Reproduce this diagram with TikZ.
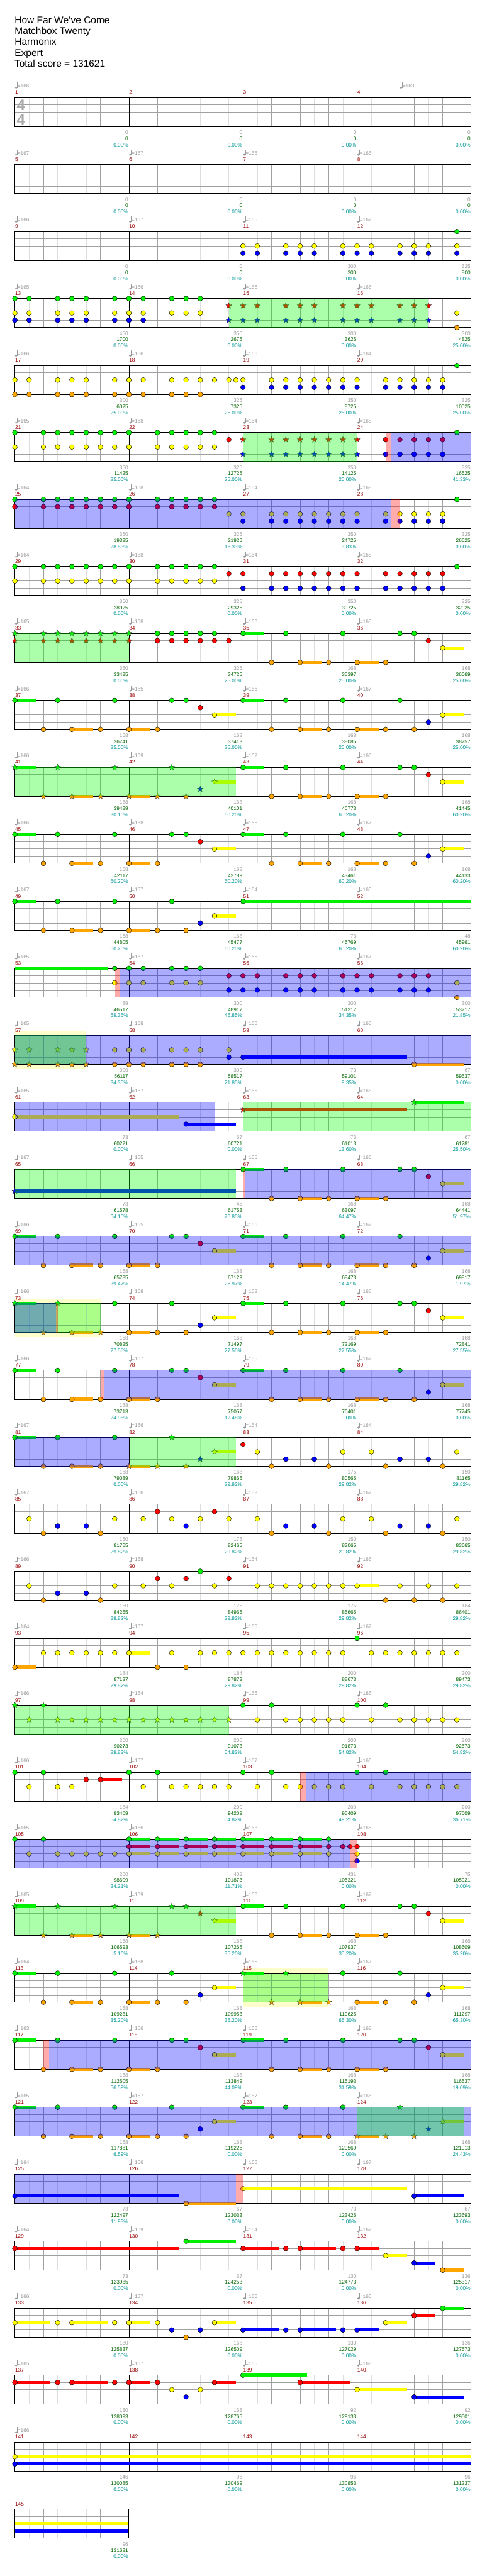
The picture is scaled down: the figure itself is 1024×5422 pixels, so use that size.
\documentclass[tikz,border=0pt]{standalone}
\usepackage{fontspec}
\setmainfont{Liberation Sans}
\usetikzlibrary{shapes.geometric}
\definecolor{cG}{RGB}{0,240,0}
\definecolor{cR}{RGB}{255,0,0}
\definecolor{cY}{RGB}{255,255,0}
\definecolor{cB}{RGB}{0,0,255}
\definecolor{cO}{RGB}{255,165,0}
\definecolor{ovG}{RGB}{0,255,0}
\definecolor{ovR}{RGB}{255,0,0}
\definecolor{ovB}{RGB}{0,0,255}
\definecolor{lyel}{RGB}{255,255,204}
\definecolor{tg}{RGB}{153,153,153}
\definecolor{sgr}{RGB}{0,100,0}
\definecolor{stl}{RGB}{0,150,150}
\definecolor{mr}{RGB}{150,0,0}
\definecolor{hlc}{RGB}{222,222,222}
\definecolor{blc}{RGB}{160,160,160}
\definecolor{tsg}{RGB}{170,170,170}
\def\lG{0}\def\lR{1}\def\lY{2}\def\lB{3}\def\lO{4}
\tikzset{
 nh/.style={circle,draw=black,line width=0.55pt,minimum size=10.4pt,inner sep=0pt},
 sh/.style={star,star points=5,star point ratio=2.3,draw=black!80,line width=0.45pt,minimum size=13pt,inner sep=0pt},
 hl/.style={draw=hlc,line width=0.8pt},
 bl/.style={draw=blc,line width=0.9pt},
 ml/.style={draw=black,line width=0.9pt},
 bd/.style={draw=black,line width=1.3pt},
 lbl/.style={inner sep=0pt,font=\fontsize{11}{13}\selectfont},
}
\newcommand\setrow[1]{\pgfmathsetmacro\rT{205.3+141*(#1-1)}\pgfmathsetmacro\rB{\rT+61}}
\newcommand\grid[1]{%
 \pgfmathsetmacro\rW{240*#1}%
 \pgfmathtruncatemacro\nh{8*#1-1}%
 \foreach \k in {1,...,\nh}{\draw[hl] ({31.3+30*\k},\rT) -- ++(0,61);}%
 \pgfmathtruncatemacro\nb{4*#1-1}%
 \foreach \k in {1,...,\nb}{\draw[bl] ({31.3+60*\k},\rT) -- ++(0,61);}%
 \foreach \l in {1,2,3}{\draw[bl] (31.3,{\rT+15.25*\l}) -- ++(\rW,0);}%
 \ifnum#1>1 \foreach \k in {1,2,3}{\draw[ml] ({31.3+240*\k},\rT) -- ++(0,61);}\fi
 \draw[bd] (31.3,\rT) rectangle ++(\rW,61);%
}
\newcommand\tempo[2]{%
 \pgfmathsetmacro\tx{31.3+30*(#1)}%
 \fill[tg] (\tx+2.6,\rT-20.5) ellipse[x radius=2.6,y radius=2.1];
 \draw[tg,line width=0.9pt] (\tx+4.9,\rT-20.5) -- (\tx+4.9,\rT-31.5);
 \node[lbl,text=tg,anchor=base west] at (\tx+5.4,\rT-20.6) {=#2};}
\newcommand\Row[4]{%
 \grid{#2}%
 \if\relax\detokenize{#3}\relax\else\foreach \hh/\vv in {#3}{\tempo{\hh}{\vv}}\fi
 \foreach[count=\i from 1] \sa/\sb/\sc in {#4}{%
  \pgfmathsetmacro\ex{31.3+240*\i-1.3}%
  \pgfmathtruncatemacro\mm{#1+\i-1}%
  \node[lbl,text=mr,anchor=base west] at ({31.3+240*(\i-1)+0.3},\rT-7) {\mm};
  \node[lbl,text=tg,anchor=base east] at (\ex,\rB+16.4) {\sa};
  \node[lbl,text=sgr,anchor=base east] at (\ex,\rB+29.4) {\sb};
  \node[lbl,text=stl,anchor=base east] at (\ex,\rB+42.4) {\sc\%};
 }}
\newcommand\Nt[2]{\pgfmathsetmacro\ly{\rT+15.25*\csname l#1\endcsname}\foreach\h in {#2}{\node[nh,fill=c#1] at ({31.3+30*\h},\ly) {};}}
\newcommand\St[2]{\pgfmathsetmacro\ly{\rT+15.25*\csname l#1\endcsname}\foreach\h in {#2}{\node[sh,fill=c#1] at ({31.3+30*\h},\ly) {};}}
\newcommand\Su[3]{\pgfmathsetmacro\ly{\rT+15.25*\csname l#1\endcsname}\fill[c#1] ({31.3+30*(#2)},\ly-3.5) rectangle ({31.3+30*(#3)},\ly+3.5);}
\newcommand\Reg[3]{\fill[#1,opacity=0.33] ({31.3+30*(#2)},\rT) rectangle ({31.3+30*(#3)},\rB);}
\newcommand\YReg[2]{\fill[lyel] ({31.3+30*(#1)},\rT-10) rectangle ({31.3+30*(#2)},\rB+10);}
\newcommand\Pone{\Su G{0}{1.5}\Su Y{14}{15.5}\Su O{4}{5.5}\Su O{8}{9.5}\Nt G{0,3,7,11,12}\Nt R{13}\Nt Y{14}\Nt O{2,4,6,8,10}}
\newcommand\Ptwo{\Su G{0}{1.5}\Su Y{14}{15.5}\Su O{4}{5.5}\Su O{8}{9.5}\Nt G{0,3,7,11}\Nt B{13}\Nt Y{14}\Nt O{2,4,6,8,10,12}}
\newcommand\Qone{\Su G{16}{17.5}\Su Y{30}{31.5}\Su O{20}{21.5}\Su O{24}{25.5}\Nt G{16,19,23,27,28}\Nt R{29}\Nt Y{30}\Nt O{18,20,22,24,26}}
\newcommand\Qtwo{\Su G{16}{17.5}\Su Y{30}{31.5}\Su O{20}{21.5}\Su O{24}{25.5}\Nt G{16,19,23,27}\Nt B{29}\Nt Y{30}\Nt O{18,20,22,24,26,28}}
\begin{document}
\begin{tikzpicture}[x=1pt,y=-1pt]
\fill[white] (0,0) rectangle (1024,5422);
\useasboundingbox (0,0) rectangle (1024,5422);
\begin{scope}[every node/.style={inner sep=0pt,anchor=base west,font=\fontsize{20.5}{24}\selectfont}]
\node (t1) at (30.8,49) {How Far We've Come};
\node (t2) at (30.8,72) {Matchbox Twenty};
\node (t3) at (30.8,95) {Harmonix};
\node (t4) at (30.8,118) {Expert};
\node (t5) at (30.3,141) {Total score = 131621};
\end{scope}
% row 1
\setrow{1}\Row{1}{4}{0/166,27/163}{0/0/0.00,0/0/0.00,0/0/0.00,0/0/0.00}
\node[inner sep=0pt,anchor=base west,text=tsg,font=\fontsize{32}{32}\bfseries\selectfont] (ts1) at (35,\rT+27.2) {4};
\node[inner sep=0pt,anchor=base west,text=tsg,font=\fontsize{32}{32}\bfseries\selectfont] (ts2) at (35,\rT+57.7) {4};
% row 2
\setrow{2}\Row{5}{4}{0/167,8/167,16/166,24/166}{0/0/0.00,0/0/0.00,0/0/0.00,0/0/0.00}
% row 3
\setrow{3}\Row{9}{4}{0/166,8/167,16/165,24/167}{0/0/0.00,0/0/0.00,300/300/0.00,325/800/0.00}
\Nt Y{16,17,19,20,21,23,24,25,27,28,29,31}\Nt B{16,17,19,20,21,23,24,25,27,28,29,31}\Nt G{31}
% row 4
\setrow{4}\Row{13}{4}{0/165,8/166,16/166,24/166}{450/1700/0.00,350/2675/0.00,300/3625/0.00,300/4825/25.00}
\Nt G{0,1,3,4,5,7,8,9,11,12,13}\Nt Y{0,1,3,4,5,7,8,9,11,12,13}\Nt B{0,1,3,4,5,7,8,9}
\St R{15,16,17,19,20,21,23,24,25,27,28,29}\St B{15,16,17,19,20,21,23,24,25,27,28,29}
\Nt Y{31}\Nt O{31}
\Reg{ovG}{15}{29}
% row 5
\setrow{5}\Row{17}{4}{0/166,8/166,16/166,24/164}{300/6025/25.00,325/7325/25.00,350/8725/25.00,325/10025/25.00}
\Nt Y{0,1,3,4,5,7,8,9,11,12,13,14,15,15.5,16,18,19,20,21,22,23,24,26,27,28,29,30}
\Nt B{16,18,19,20,21,22,23,24,26,27,28,29,30}
\Nt O{0,1,3,4,5,7,8,9,11,12,13}\Nt G{31}
% row 6
\setrow{6}\Row{21}{4}{0/165,8/168,16/164,24/168}{350/11425/25.00,325/12725/25.00,350/14125/25.00,325/16525/41.33}
\Nt G{0,2,3,4,5,6,7,8,10,11,12,13,14,31}\Nt Y{0,2,3,4,5,6,7,8,10,11,12,13,14}
\Nt R{15,26,27,28,29,30}\St R{16,18,19,20,21,22,23,24}\St B{16,18,19,20,21,22,23,24}\Nt B{26,27,28,29,30}
\Reg{ovG}{16}{24}\Reg{ovR}{26}{26.42}\Reg{ovB}{26.42}{32}
% row 7
\setrow{7}\Row{25}{4}{0/164,8/168,16/164,24/168}{350/19325/28.83,325/21925/16.33,350/24725/3.83,325/26625/0.00}
\Nt G{0,2,3,4,5,6,7,8,10,11,12,13,14,31}\Nt R{0,2,3,4,5,6,7,8,10,11,12,13,14}
\Nt Y{15,16,18,19,20,21,22,23,24,26,27,28,29,30}\Nt B{16,18,19,20,21,22,23,24,26,27,28,29,30}
\Reg{ovB}{0}{26.4}\Reg{ovR}{26.4}{27}
% row 8
\setrow{8}\Row{29}{4}{0/164,8/168,16/164,24/168}{350/28025/0.00,325/29325/0.00,350/30725/0.00,325/32025/0.00}
\Nt G{0,2,3,4,5,6,7,8,10,11,12,13,14,31}\Nt Y{0,2,3,4,5,6,7,8,10,11,12,13,14}
\Nt R{15,16,18,19,20,21,22,23,24,26,27,28,29,30}\Nt B{16,18,19,20,21,22,23,24,26,27,28,29,30}
% row 9
\setrow{9}\Row{33}{4}{0/165,8/168,16/166,24/165}{350/33425/0.00,325/34725/25.00,168/35397/25.00,168/36069/25.00}
\St G{0,2,3,4,5,6,7,8}\St R{0,2,3,4,5,6,7,8}\Nt G{10,11,12,13,14}\Nt R{10,11,12,13,14,15}
\Qone
\Reg{ovG}{0}{8}
% row 10
\setrow{10}\Row{37}{4}{0/166,8/165,16/166,24/167}{168/36741/25.00,168/37413/25.00,168/38085/25.00,168/38757/25.00}
\Pone\Qtwo
% row 11
\setrow{11}\Row{41}{4}{0/166,8/169,16/162,24/166}{168/39429/30.10,168/40101/60.20,168/40773/60.20,168/41445/60.20}
\Su G{0}{1.5}\Su O{4}{5.5}\Su O{8}{9.5}\Su Y{14}{15.5}\St G{0,3,7,11}\St O{2,4,6,8,10,12}\St B{13}\St Y{14}
\Qone
\Reg{ovG}{0}{15.5}
% row 12
\setrow{12}\Row{45}{4}{0/166,8/168,16/165,24/167}{168/42117/60.20,168/42789/60.20,168/43461/60.20,168/44133/60.20}
\Pone\Qtwo
% row 13
\setrow{13}\Row{49}{4}{0/167,8/167,16/164,24/165}{168/44805/60.20,168/45477/60.20,73/45769/60.20,48/45961/60.20}
\Ptwo\Su G{16}{32}\Nt G{16}
% row 14
\setrow{14}\Row{53}{4}{0/165,8/167,16/165,24/167}{89/46517/59.35,300/48917/46.85,300/51317/34.35,300/53717/21.85}
\Su G{0}{6.5}\Nt G{7,8,9,11,12,13}\Nt Y{7,8,9,11,12,13,31}
\Nt R{15,16,17,19,20,21,23,24,25,27,28,29}\Nt B{15,16,17,19,20,21,23,24,25,27,28,29}\Nt O{31}
\Reg{ovR}{7}{7.4}\Reg{ovB}{7.4}{32}
% row 15
\setrow{15}\YReg{0}{5}\Row{57}{4}{0/165,8/168,16/166,24/165}{300/56117/34.35,300/58517/21.85,73/59101/9.35,67/59637/0.00}
\St Y{0,1,3,4,5}\St O{0,1,3,4,5}\Nt Y{7,8,9,11,12,13,15}\Nt O{7,8,9,11,12,13}
\Su B{16}{27.5}\Nt B{15,16}\Su O{28}{31.5}\Nt O{28}
\Reg{ovB}{0}{32}\Reg{ovG}{0}{5}
% row 16
\setrow{16}\Row{61}{4}{0/165,8/167,16/165,24/168}{73/60221/0.00,67/60721/0.00,73/61013/13.60,67/61281/25.50}
\Su Y{0}{11.5}\Nt Y{0}\Su B{12}{15.5}\Nt B{12}\Su R{16}{27.5}\St R{16}\Su G{28}{31.5}\St G{28}
\Reg{ovB}{0}{14}\Reg{ovG}{16}{32}
% row 17
\setrow{17}\Row{65}{4}{0/167,8/165,16/165,24/166}{73/61578/64.10,45/61753/76.85,168/63097/64.47,168/64441/51.97}
\Su B{0}{15.5}\St B{0}\Qone
\Reg{ovG}{0}{15.5}\Reg{ovR}{16}{16.1}\Reg{ovB}{16.1}{32}
% row 18
\setrow{18}\Row{69}{4}{0/166,8/165,16/166,24/167}{168/65785/39.47,168/67129/26.97,168/68473/14.47,168/69817/1.97}
\Pone\Qtwo\Reg{ovB}{0}{32}
% row 19
\setrow{19}\YReg{0}{6}\Row{73}{4}{0/166,8/169,16/162,24/166}{168/70825/27.55,168/71497/27.55,168/72169/27.55,168/72841/27.55}
\Su G{0}{1.5}\St G{0,3}\Su O{4}{5.5}\St O{2,4,6}\Nt G{7,11}\Nt B{13}\Su Y{14}{15.5}\Nt Y{14}\Su O{8}{9.5}\Nt O{8,10,12}
\Qone
\Reg{ovG}{0}{6}\Reg{ovB}{0}{2.9}\Reg{ovR}{2.9}{3}
% row 20
\setrow{20}\Row{77}{4}{0/166,8/167,16/165,24/167}{168/73713/24.98,168/75057/12.48,168/76401/0.00,168/77745/0.00}
\Pone\Qtwo\Reg{ovR}{6}{6.3}\Reg{ovB}{6.3}{32}
% row 21
\setrow{21}\Row{81}{4}{0/167,8/166,16/164,24/164}{168/79089/0.00,168/79865/29.82,175/80565/29.82,150/81165/29.82}
\Su G{0}{1.5}\Nt G{0,3,7}\St G{11}\Su O{4}{5.5}\Nt O{2,4,6}\Su O{8}{9.5}\St O{8,10,12}\St B{13}\Su Y{14}{15.5}\St Y{14}
\Nt R{16}\Nt Y{17,23,25,31}\Nt O{18,22,26,30}\Nt B{19,21,27,29}
\Reg{ovB}{0}{8}\Reg{ovG}{8.05}{15.5}
% row 22
\setrow{22}\Row{85}{4}{0/167,8/166,16/168,24/167}{150/81765/29.82,175/82465/29.82,150/83065/29.82,150/83665/29.82}
\Nt Y{1,7,9,11,13,15,17,23,25,31}\Nt O{2,6,18,22,26,30}\Nt B{3,5,12,19,21,27,29}\Nt R{10,14}
% row 23
\setrow{23}\Row{89}{4}{0/166,8/168,16/164,24/166}{150/84265/29.82,175/84965/29.82,175/85665/29.82,184/86401/29.82}
\Nt Y{1,7,9,11,14}\Nt O{2,6}\Nt B{3,5}\Nt R{10,12,15}\Nt G{13}
\Su Y{24}{25.5}\Nt Y{17,18,19,20,21,22,23,24,27,29,31}\Nt O{26,28,30}
% row 24
\setrow{24}\Row{93}{4}{0/164,8/167,16/165,24/167}{184/87137/29.82,184/87873/29.82,200/88673/29.82,200/89473/29.82}
\Su O{0}{1.5}\Nt O{0,10,12}\Su Y{8}{9.5}
\Nt Y{2,3,4,5,6,7,8,11,13,14,15,16,17,18,19,20,21,22,23,25,26,27,28,29,30,31}\Nt G{24}
% row 25
\setrow{25}\Row{97}{4}{0/166,8/164,16/166,24/166}{200/90273/29.82,200/91073/54.82,200/91873/54.82,200/92673/54.82}
\St G{0,2}\St Y{1,3,4,5,6,7,8,9,10,11,12,13,14,15}\Nt G{16,18,24,26}\Nt Y{17,19,20,21,22,23,25,27,28,29,30,31}
\Reg{ovG}{0}{15}
% row 26
\setrow{26}\Row{101}{4}{0/166,8/167,16/167,24/166}{184/93409/54.82,200/94209/54.82,200/95409/49.21,200/97009/36.71}
\Nt G{0,2,8,10,16,18,24,26}\Su R{6}{7.5}\Nt R{5,6}
\Nt Y{1,3,4,9,11,12,13,14,15,17,19,20,21,22,23,25,27,28,29,30,31}
\Reg{ovR}{20}{20.4}\Reg{ovB}{20.4}{32}
% row 27
\setrow{27}\Row{105}{4}{0/165,8/166,16/168,24/165}{200/98609/24.21,408/101873/11.71,431/105321/0.00,75/105921/0.00}
\Nt G{0,2}\Nt Y{1,3,4,5,6,7}
\foreach \s in {8,10,12,14,16,18,20}{\Su G{\s}{\s+1.5}\Su R{\s}{\s+1.5}\Su Y{\s}{\s+1.5}}
\Nt G{8,10,12,14,16,18,20,22}\Nt R{8,10,12,14,16,18,20,22,23,23.5,24}\Nt Y{8,10,12,14,16,18,20,22,24}\Nt B{24}
\Reg{ovB}{0}{23.5}\Reg{ovR}{23.5}{24}
% row 28
\setrow{28}\Row{109}{4}{0/165,8/169,16/166,24/167}{168/106593/5.10,168/107265/35.20,168/107937/35.20,168/108609/35.20}
\Su G{0}{1.5}\St G{0,3,7,11,12}\St R{13}\Su Y{14}{15.5}\St Y{14}\Su O{4}{5.5}\Su O{8}{9.5}\St O{2,4,6,8,10}
\Qone\Reg{ovG}{0}{15.5}
% row 29
\setrow{29}\YReg{16}{22}\Row{113}{4}{0/164,8/168,16/165,24/167}{168/109281/35.20,168/109953/35.20,168/110625/65.30,168/111297/65.30}
\Ptwo
\Su G{16}{17.5}\St G{16,19}\Nt G{23,27}\Nt B{29}\Su Y{30}{31.5}\Nt Y{30}\Su O{20}{21.5}\St O{18,20,22}\Su O{24}{25.5}\Nt O{24,26,28}
\Reg{ovG}{16}{22}
% row 30
\setrow{30}\Row{117}{4}{0/163,8/166,16/166,24/168}{168/112505/56.59,168/113849/44.09,168/115193/31.59,168/116537/19.09}
\Pone\Qone\Reg{ovR}{2}{2.4}\Reg{ovB}{2.4}{32}
% row 31
\setrow{31}\Row{121}{4}{0/165,8/167,16/167,24/166}{168/117881/6.59,168/119225/0.00,168/120569/0.00,168/121913/24.43}
\Ptwo
\Su G{16}{17.5}\Nt G{16,19,23}\St G{27}\St B{29}\Su Y{30}{31.5}\St Y{30}\Su O{20}{21.5}\Nt O{18,20,22}\Su O{24}{25.5}\St O{24,26,28}
\Reg{ovB}{0}{32}\Reg{ovG}{24}{31.5}
% row 32
\setrow{32}\Row{125}{4}{0/164,8/166,16/166,24/167}{73/122497/11.93,67/123033/0.00,73/123425/0.00,67/123693/0.00}
\Su B{0}{11.5}\Nt B{0}\Su O{12}{15.5}\Nt O{12}\Su Y{16}{27.5}\Nt Y{16}\Su B{28}{31.5}\Nt B{28}
\Reg{ovB}{0}{15.5}\Reg{ovR}{15.5}{16}
% row 33
\setrow{33}\Row{129}{4}{0/164,8/169,16/164,24/167}{73/123985/0.00,67/124253/0.00,130/124773/0.00,136/125317/0.00}
\Su R{0}{11.5}\Su G{12}{15.5}\Su R{16}{18.5}\Su R{20}{22.5}\Su R{24}{25.5}\Su Y{26}{27.5}\Su B{28}{29.5}\Su O{30}{31.5}
\Nt R{0,16,19,20,23,24}\Nt G{12}\Nt Y{26}\Nt B{28}\Nt O{30}
% row 34
\setrow{34}\Row{133}{4}{0/166,8/167,16/166,24/165}{130/125837/0.00,168/126509/0.00,130/127029/0.00,136/127573/0.00}
\Su Y{0}{2.5}\Su Y{4}{6.5}\Su Y{8}{9.5}\Su Y{14}{15.5}\Su B{16}{18.5}\Su B{20}{22.5}\Su B{24}{25.5}\Su Y{26}{27.5}\Su R{28}{29.5}\Su G{30}{31.5}
\Nt Y{0,3,4,7,8,10,14,26}\Nt B{11,13,16,19,20,23,24}\Nt O{12}\Nt R{28}\Nt G{30}
% row 35
\setrow{35}\Row{137}{4}{0/165,8/167,16/165,24/168}{130/128093/0.00,168/128765/0.00,92/129133/0.00,92/129501/0.00}
\Su R{0}{2.5}\Su R{4}{6.5}\Su R{8}{9.5}\Su R{14}{15.5}\Su G{16}{20.5}\Su R{20}{23.5}\Su Y{24}{27.5}\Su B{28}{31.5}
\Nt R{0,3,4,7,8,10,14,20}\Nt Y{11,13,24}\Nt B{12,28}\Nt G{16}
% row 36
\setrow{36}\Row{141}{4}{0/166}{146/130085/0.00,96/130469/0.00,96/130853/0.00,96/131237/0.00}
\Su Y{0}{32}\Su B{0}{32}\Nt Y{0}\Nt B{0}
% row 37
\setrow{37}\Row{145}{1}{}{96/131621/0.00}
\Su Y{0}{7.95}\Su B{0}{7.95}
\end{tikzpicture}
\end{document}
